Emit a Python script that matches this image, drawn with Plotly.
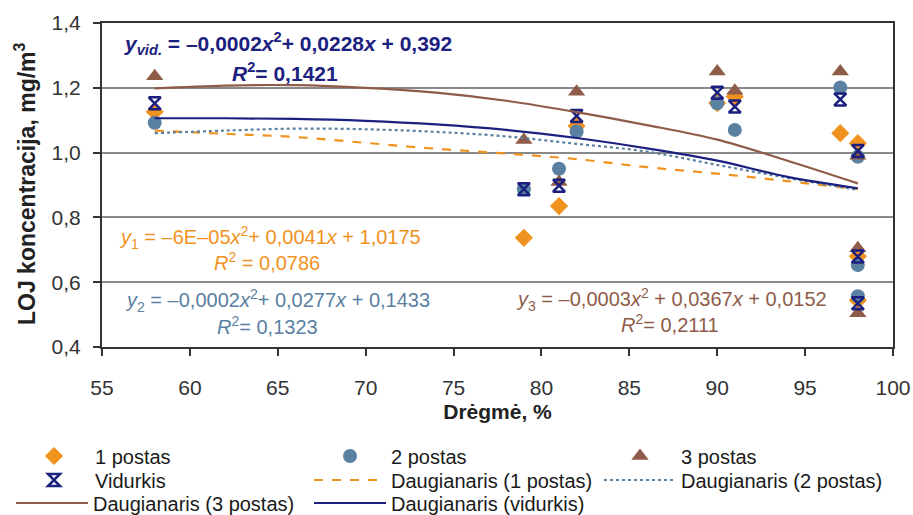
import plotly.graph_objects as go

# ---- data ----
humidity = [58, 79, 81, 82, 90, 91, 97, 98, 98, 98]
post1 = [1.126, 0.737, 0.835, 1.082, 1.153, 1.173, 1.060, 1.029, 0.680, 0.544]
post2 = [1.092, 0.887, 0.950, 1.065, 1.152, 1.070, 1.201, 0.987, 0.653, 0.557]
post3 = [1.236, 1.039, 0.909, 1.188, 1.250, 1.191, 1.250, 0.990, 0.705, 0.504]
average = [1.152, 0.887, 0.898, 1.113, 1.185, 1.142, 1.164, 1.005, 0.679, 0.535]

trend_x = [58, 62, 66, 70, 74, 78, 82, 86, 90, 94, 98]
trend1 = [1.068, 1.058, 1.048, 1.030, 1.012, 0.997, 0.980, 0.955, 0.935, 0.912, 0.887]
trend2 = [1.060, 1.068, 1.074, 1.072, 1.064, 1.050, 1.027, 1.003, 0.962, 0.922, 0.885]
trend3 = [1.198, 1.207, 1.208, 1.200, 1.185, 1.160, 1.125, 1.085, 1.040, 0.975, 0.905]
trend_avg = [1.106, 1.106, 1.104, 1.098, 1.087, 1.070, 1.045, 1.013, 0.975, 0.925, 0.890]

x_ticks = [55, 60, 65, 70, 75, 80, 85, 90, 95, 100]
y_ticks = [0.4, 0.6, 0.8, 1.0, 1.2, 1.4]

ORANGE = "#F0921E"
STEEL = "#5A80A2"
BROWN = "#8E5C48"
NAVY = "#1C2180"
FONT = "Liberation Sans, Arial, sans-serif"

W, H = 913, 515
PL, PR, PT, PB = 102, 893, 23, 347  # plot area in px

fig = go.Figure()

fig.add_trace(go.Scatter(x=humidity, y=post1, mode="markers", name="1 postas",
                         marker=dict(symbol="diamond", size=14, color=ORANGE), legend="legend"))
fig.add_trace(go.Scatter(x=humidity, y=post2, mode="markers", name="2 postas",
                         marker=dict(symbol="circle", size=14, color=STEEL), legend="legend2"))
fig.add_trace(go.Scatter(x=humidity, y=post3, mode="markers", name="3 postas",
                         marker=dict(symbol="triangle-up", size=15, color=BROWN), legend="legend3"))
fig.add_trace(go.Scatter(x=humidity, y=average, mode="markers", name="Vidurkis",
                         marker=dict(symbol="hourglass-open", size=12, color=NAVY,
                                     line=dict(color=NAVY, width=2.5)), legend="legend4"))

fig.add_trace(go.Scatter(x=trend_x, y=trend1, mode="lines", name="Daugianaris (1 postas)",
                         line=dict(color=ORANGE, width=2.2, dash="dash", shape="spline"), legend="legend5"))
fig.add_trace(go.Scatter(x=trend_x, y=trend2, mode="lines", name="Daugianaris (2 postas)",
                         line=dict(color=STEEL, width=2.2, dash="dot", shape="spline"), legend="legend6"))
fig.add_trace(go.Scatter(x=trend_x, y=trend3, mode="lines", name="Daugianaris (3 postas)",
                         line=dict(color=BROWN, width=2.2, shape="spline"), legend="legend7"))
fig.add_trace(go.Scatter(x=trend_x, y=trend_avg, mode="lines", name="Daugianaris (vidurkis)",
                         line=dict(color=NAVY, width=2.2, shape="spline"), legend="legend8"))

# legend placement (text start x px, text centre y px)
ITEMW = 72
leg_pos = {
    "legend": (97, 456), "legend2": (393, 456), "legend3": (683, 456),
    "legend4": (97, 480), "legend5": (393, 480), "legend6": (683, 480),
    "legend7": (95, 503), "legend8": (393, 503),
}
legend_layout = {}
for key, (tx, ty) in leg_pos.items():
    legend_layout[key] = dict(
        xref="container", yref="container",
        x=(tx - ITEMW - 12) / W, y=1 - ty / H, xanchor="left", yanchor="middle",
        bgcolor="rgba(0,0,0,0)", borderwidth=0, itemwidth=ITEMW,
        font=dict(family=FONT, size=20, color="#1a1a1a"),
        itemclick=False, tracegroupgap=0, visible=True,
    )

# equation annotations
def eq(text, cx, cy, color, bold=False, size=20, angle=0):
    t = f"<b>{text}</b>" if bold else text
    return dict(text=t, xref="paper", yref="paper",
                x=(cx - PL) / (PR - PL), y=(PB - cy) / (PB - PT),
                xanchor="center", yanchor="middle", showarrow=False, textangle=angle,
                font=dict(family=FONT, size=size, color=color))

annotations = [
    eq("<i>y</i><sub><i>vid.</i></sub> = –0,0002<i>x</i><sup>2</sup>+ 0,0228<i>x</i> + 0,392", 288, 43, NAVY, bold=True, size=21),
    eq("<i>R</i><sup>2</sup>= 0,1421", 285, 72, NAVY, bold=True, size=21),
    eq("<i>y</i><sub>1</sub> = –6E–05<i>x</i><sup>2</sup>+ 0,0041<i>x</i> + 1,0175", 270, 237, ORANGE),
    eq("<i>R</i><sup>2</sup> = 0,0786", 267, 261, ORANGE),
    eq("<i>y</i><sub>2</sub> = –0,0002<i>x</i><sup>2</sup>+ 0,0277<i>x</i> + 0,1433", 277, 300, STEEL),
    eq("<i>R</i><sup>2</sup>= 0,1323", 267, 325, STEEL),
    eq("<i>y</i><sub>3</sub> = –0,0003<i>x</i><sup>2</sup> + 0,0367<i>x</i> + 0,0152", 671, 299, BROWN),
    eq("<i>R</i><sup>2</sup>= 0,2111", 670, 323, BROWN),
    # y-axis title
    eq("LOJ koncentracija, mg/m<sup>3</sup>", 25, 184, "#222222", bold=True, size=23, angle=-90),
]

fig.update_layout(
    width=W, height=H,
    margin=dict(l=PL, r=W - PR, t=PT, b=H - PB, autoexpand=False),
    paper_bgcolor="white", plot_bgcolor="white",
    separators=", ",
    showlegend=True,
    font=dict(family=FONT, size=20, color="#222222"),
    annotations=annotations,
    **legend_layout,
)

fig.update_xaxes(
    range=[55, 100], tickvals=x_ticks, ticktext=[str(v) for v in x_ticks],
    showgrid=False, zeroline=False,
    showline=True, linecolor="#333333", linewidth=2, mirror=True,
    ticks="outside", ticklen=7, tickcolor="#333333", tickwidth=1.5,
    ticklabelstandoff=14,
    tickfont=dict(family=FONT, size=21, color="#333333"),
    title=dict(text="<b>Drėgmė, %</b>", font=dict(family=FONT, size=21, color="#222222"), standoff=6),
)
fig.update_yaxes(
    range=[0.4, 1.4], tickvals=y_ticks, tickformat=".1f",
    showgrid=True, gridcolor="#8a8a8a", gridwidth=1.5, zeroline=False,
    showline=True, linecolor="#333333", linewidth=2, mirror=True,
    ticks="outside", ticklen=7, tickcolor="#333333", tickwidth=1.5,
    ticklabelstandoff=8,
    tickfont=dict(family=FONT, size=21, color="#333333"),
)

fig.write_html("out.html")
